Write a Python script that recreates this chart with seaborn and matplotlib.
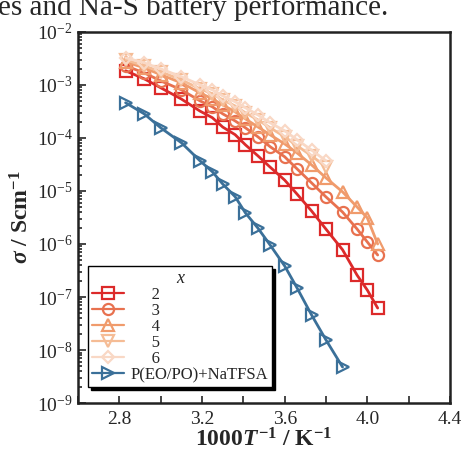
"""
Ionic conductivity vs inverse temperature
"""

# Libraries
import numpy as np
import pandas as pd
import seaborn as sns
import matplotlib as mpl
import matplotlib.pyplot as plt
from matplotlib.ticker import LogLocator, MultipleLocator, NullFormatter

# -------------------------
# Data
# -------------------------
# 1000/T for the x series (80 C down to about -26 C)
inv_t = [2.83, 2.92, 3.00, 3.10, 3.19, 3.25, 3.30, 3.36, 3.41, 3.47,
         3.53, 3.60, 3.66, 3.73, 3.80, 3.88, 3.95, 4.00, 4.05]

sigma_x2 = [1.84e-3, 1.30e-3, 8.8e-4, 5.4e-4, 3.2e-4, 2.4e-4, 1.6e-4, 1.15e-4,
            7.4e-5, 4.6e-5, 2.8e-5, 1.6e-5, 8.7e-6, 4.2e-6, 1.9e-6, 7.8e-7,
            2.6e-7, 1.35e-7, 6.2e-8]
sigma_x3 = [2.28e-3, 1.68e-3, 1.19e-3, 8.05e-4, 4.99e-4, 3.85e-4, 2.84e-4,
            2.09e-4, 1.55e-4, 1.05e-4, 6.8e-5, 4.4e-5, 2.6e-5, 1.42e-5,
            7.7e-6, 4.0e-6, 1.92e-6, 1.09e-6, 6.2e-7]
sigma_x4 = [2.72e-3, 2.09e-3, 1.55e-3, 1.09e-3, 7.06e-4, 5.44e-4, 4.2e-4,
            3.1e-4, 2.28e-4, 1.61e-4, 1.14e-4, 7.7e-5, 5.2e-5, 3.1e-5,
            1.76e-5, 9.6e-6, 5.0e-6, 3.1e-6, 1.0e-6]
sigma_x5 = [2.96e-3, 2.28e-3, 1.76e-3, 1.24e-3, 8.4e-4, 6.8e-4, 5.2e-4,
            4.0e-4, 2.96e-4, 2.19e-4, 1.55e-4, 1.05e-4, 7.1e-5, 4.6e-5, 2.84e-5]
sigma_x6 = [3.24e-3, 2.6e-3, 2.0e-3, 1.42e-3, 1.0e-3, 8.05e-4, 6.2e-4,
            4.8e-4, 3.7e-4, 2.72e-4, 1.92e-4, 1.36e-4, 9.2e-5, 5.9e-5, 3.7e-5]
sigma_ref = [4.6e-4, 2.84e-4, 1.55e-4, 8.1e-5, 3.7e-5, 2.3e-5, 1.35e-5,
             7.8e-6, 3.85e-6, 2.0e-6, 9.5e-7, 3.85e-7, 1.48e-7, 4.6e-8,
             1.55e-8, 4.8e-9]

labels = ['2', '3', '4', '5', '6', 'P(EO/PO)+NaTFSA']
series = [sigma_x2, sigma_x3, sigma_x4, sigma_x5, sigma_x6, sigma_ref]
colors = ['#dc2a2a', '#e8714f', '#f09b6c', '#f5bc95', '#f9d8c5', '#3b7099']
markers = ['s', 'o', '^', 'v', 'D', '>']

# -------------------------
# Configuration
# -------------------------
sns.set_style("ticks")
mpl.rcParams['font.family'] = ['Liberation Serif', 'DejaVu Serif']
mpl.rcParams['mathtext.fontset'] = 'custom'
mpl.rcParams['mathtext.rm'] = 'Liberation Serif'
mpl.rcParams['mathtext.it'] = 'Liberation Serif:italic:bold'
mpl.rcParams['mathtext.bf'] = 'Liberation Serif:bold'
mpl.rcParams['axes.unicode_minus'] = True

# -------------------------
# Plot
# -------------------------
f = plt.figure(figsize=(4.62, 4.54), dpi=100)
ax = f.add_axes([0.169, 0.112, 0.805, 0.818])

handles = []
for lbl, sig, c, m in zip(labels, series, colors, markers):
    df = pd.DataFrame({'x': inv_t[:len(sig)], 'sigma': sig})
    sns.lineplot(data=df, x='x', y='sigma', ax=ax, color=c, lw=2,
                 marker=m, ms=8 if m != 'D' else 6.5, mfc='none', mec=c,
                 mew=1.6, label=lbl, legend=False)
    handles.append(ax.lines[-1])

# Axes configuration
ax.set_yscale('log')
ax.set_xlim(2.6, 4.4)
ax.set_ylim(1e-9, 1e-2)
ax.xaxis.set_major_locator(MultipleLocator(0.4))
ax.xaxis.set_minor_locator(MultipleLocator(0.2))
ax.xaxis.set_major_formatter(mpl.ticker.FormatStrFormatter('%.1f'))
ax.yaxis.set_major_locator(LogLocator(base=10, numticks=12))
ax.yaxis.set_minor_locator(LogLocator(base=10, subs=np.arange(2, 10), numticks=12))
ax.yaxis.set_minor_formatter(NullFormatter())
ax.tick_params(axis='both', which='both', direction='in', top=False,
               right=False, labelsize=14, width=1.2)
ax.tick_params(axis='x', which='both', length=5, pad=6)
ax.tick_params(axis='y', which='major', length=6, pad=4)
ax.tick_params(axis='y', which='minor', length=3)
for s in ax.spines.values():
    s.set_linewidth(1.8)
    s.set_color('#222222')

ax.set_xlabel(r'1000$T^{\mathbf{-1}}$ / K$^{\mathbf{-1}}$',
              fontsize=17, fontweight='bold', labelpad=0)
ax.set_ylabel(r'$\sigma$ / Scm$^{\mathbf{-1}}$',
              fontsize=17, fontweight='bold', labelpad=2)

# Legend
leg_labels = ['     ' + l for l in labels[:5]] + [labels[5]]
leg = ax.legend(handles, leg_labels, loc='lower left',
                bbox_to_anchor=(0.027, 0.043), borderaxespad=0,
                fontsize=12, title='x', title_fontproperties={'style': 'italic', 'size': 13},
                frameon=True, fancybox=False, edgecolor='black',
                shadow={'color': 'black', 'alpha': 1},
                handlelength=1.9, handletextpad=0.4, labelspacing=0.0,
                borderpad=0.25)
leg.get_frame().set_linewidth(1.0)
for line in leg.get_lines():
    line.set_linewidth(1.6)

# Clipped caption text at the very top
f.text(-0.004, 1 - 15 / 454, 'es and Na-S battery performance.',
       fontsize=21, va='baseline', ha='left')

plt.savefig('out.png', dpi=100)
